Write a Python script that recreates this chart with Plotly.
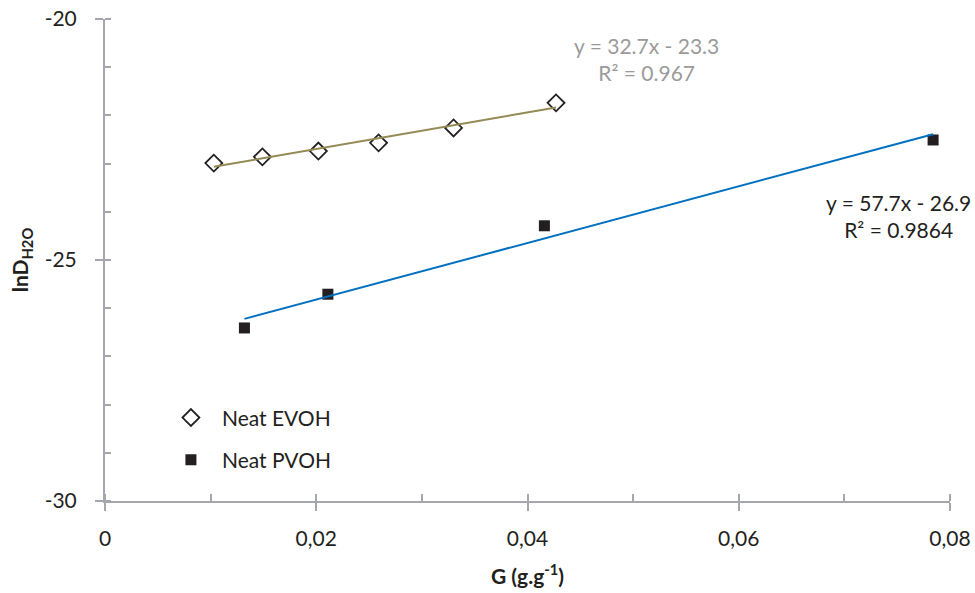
import numpy as np
import plotly.graph_objects as go

# Data
evoh_g = [0.0103, 0.0149, 0.0202, 0.0259, 0.0330, 0.0427]
evoh_lnd = [-22.99, -22.86, -22.74, -22.57, -22.26, -21.74]
pvoh_g = [0.0132, 0.0211, 0.0416, 0.0784]
pvoh_lnd = [-26.41, -25.71, -24.29, -22.51]

x_ticks = [0, 0.02, 0.04, 0.06, 0.08]
y_ticks = [-30, -25, -20]
y_ticktext = ["-30", "-25", "-20"]

evoh_eq = "y = 32.7x - 23.3<br>R² = 0.967"
pvoh_eq = "y = 57.7x - 26.9<br>R² = 0.9864"

FONT = "Lato, 'Open Sans', sans-serif"
AXC = "#a6a6ad"

fig = go.Figure()
fig.add_trace(go.Scatter(
    x=evoh_g, y=evoh_lnd, mode="markers", name="Neat EVOH", legendgroup="a",
    marker=dict(symbol="diamond-open", size=13, color="#231f20", line=dict(width=1.8, color="#231f20"))))
fig.add_trace(go.Scatter(
    x=pvoh_g, y=pvoh_lnd, mode="markers", name="Neat PVOH", legendgroup="b",
    marker=dict(symbol="square", size=11, color="#231f20")))

# trend lines (least squares fit of the data)
for xs, ys, col in [(evoh_g, evoh_lnd, "#948a54"), (pvoh_g, pvoh_lnd, "#0070c0")]:
    m, b = np.polyfit(xs, ys, 1)
    xl = [min(xs), max(xs)]
    fig.add_trace(go.Scatter(x=xl, y=[m * v + b for v in xl], mode="lines",
                             line=dict(color=col, width=2), showlegend=False, hoverinfo="skip"))

fig.add_annotation(x=0.0513, y=-20.82, xref="x", yref="y", text=evoh_eq, showarrow=False,
                   font=dict(family=FONT, size=21, color="#9a9a9a"), align="center")
fig.add_annotation(x=0.0751, y=-24.09, xref="x", yref="y", text=pvoh_eq, showarrow=False,
                   font=dict(family=FONT, size=21, color="#231f20"), align="center")

fig.update_layout(
    width=975, height=593,
    margin=dict(l=105, r=25, t=19, b=92, autoexpand=False),
    paper_bgcolor="white", plot_bgcolor="white",
    separators=", ",
    font=dict(family=FONT, size=21, color="#231f20"),
    showlegend=True,
    legend=dict(x=0.065, y=0.215, xanchor="left", yanchor="top", itemwidth=52,
                font=dict(family=FONT, size=21, color="#231f20"),
                tracegroupgap=12, bgcolor="rgba(0,0,0,0)"),
)
fig.update_xaxes(
    range=[0, 0.08], tickvals=x_ticks, showgrid=False, zeroline=False, automargin=False,
    showline=True, linecolor=AXC, linewidth=2, ticklabeloverflow="allow",
    ticks="outside", ticklen=8, tickcolor=AXC, tickwidth=1.5,
    minor=dict(dtick=0.01, tick0=0, ticks="inside", ticklen=7, tickcolor=AXC, tickwidth=1.5),
    tickfont=dict(family=FONT, size=21, color="#231f20"),
    ticklabelstandoff=10,
    title=dict(text="<b>G (g.g<sup>-1</sup>)</b>", font=dict(family=FONT, size=21), standoff=20),
)
fig.update_yaxes(
    range=[-30, -20], tickvals=y_ticks, ticktext=y_ticktext, showgrid=False, zeroline=False, automargin=False,
    showline=True, linecolor=AXC, linewidth=2, ticklabeloverflow="allow",
    ticks="outside", ticklen=8, tickcolor=AXC, tickwidth=1.5,
    minor=dict(dtick=1, tick0=-30, ticks="inside", ticklen=6, tickcolor=AXC, tickwidth=1.5),
    tickfont=dict(family=FONT, size=21, color="#231f20"),
    ticklabelstandoff=14,
    title=dict(text="<b>lnD<sub>H2O</sub></b>", font=dict(family=FONT, size=21), standoff=10),
)
fig.write_html("out.html", config={"displayModeBar": False},
               post_script="document.body.style.margin='0';document.body.style.overflow='hidden';")
